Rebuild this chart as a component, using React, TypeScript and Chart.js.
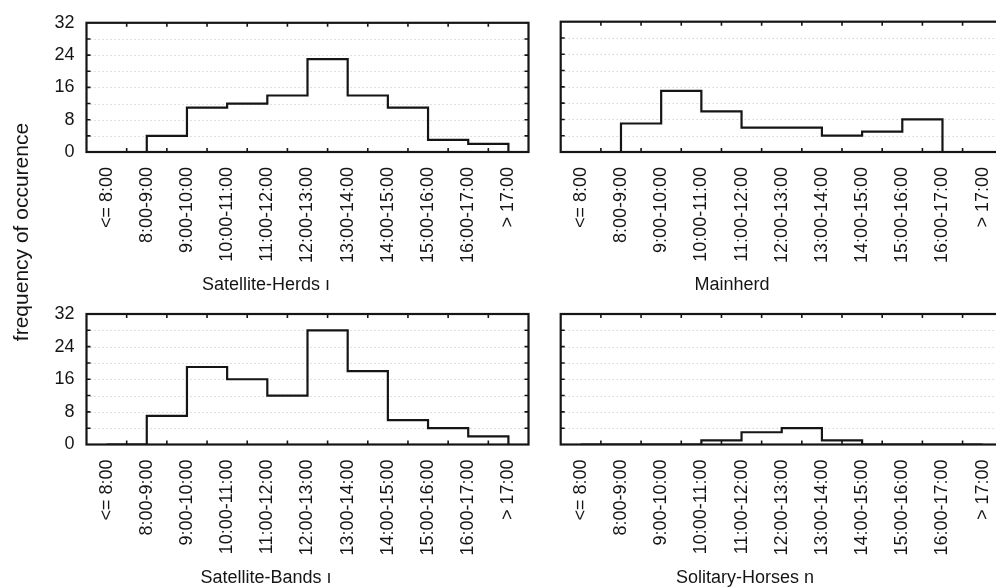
import React, { useEffect, useRef } from "react";
import { Chart, registerables } from "chart.js";

Chart.register(...registerables);

// ---- data ----
const timeSlots = [
  "<= 8:00",
  "8:00-9:00",
  "9:00-10:00",
  "10:00-11:00",
  "11:00-12:00",
  "12:00-13:00",
  "13:00-14:00",
  "14:00-15:00",
  "15:00-16:00",
  "16:00-17:00",
  "> 17:00",
];
const satelliteHerds = [0, 4, 11, 12, 14, 23, 14, 11, 3, 2, 0];
const mainherd = [0, 7, 15, 10, 6, 6, 4, 5, 8, 0, 0];
const satelliteBands = [0, 7, 19, 16, 12, 28, 18, 6, 4, 2, 0];
const solitaryHorses = [0, 0, 0, 1, 3, 4, 1, 0, 0, 0, 0];

const yMax = 32;
const yLabelStep = 8;
const yMinorStep = 4;
const yAxisTitle = "frequency of occurence";

// ---- layout ----
const W = 1020;
const H = 588;
const FONT = "'Liberation Sans', Arial, Helvetica, sans-serif";
const INK = "#151515";

type Panel = {
  name: string;
  values: number[];
  left: number;
  right: number;
  top: number;
  bottom: number;
  showY: boolean;
  titleX: number;
  titleY: number;
  drawYTitle: boolean;
};

const panels: Panel[] = [
  { name: "Satellite-Herds ı", values: satelliteHerds, left: 86.5, right: 528.5, top: 21.7, bottom: 152, showY: true, titleX: 266, titleY: 285, drawYTitle: false },
  { name: "Mainherd", values: mainherd, left: 560.7, right: 1004, top: 21.7, bottom: 152, showY: false, titleX: 732, titleY: 285, drawYTitle: false },
  { name: "Satellite-Bands ı", values: satelliteBands, left: 86.5, right: 528.5, top: 314, bottom: 444.5, showY: true, titleX: 266, titleY: 578, drawYTitle: true },
  { name: "Solitary-Horses n", values: solitaryHorses, left: 560.7, right: 1004, top: 314, bottom: 444.5, showY: false, titleX: 745, titleY: 578, drawYTitle: false },
];

function framePlugin(p: Panel) {
  return {
    id: "frame",
    beforeDatasetsDraw(chart: any) {
      const { ctx, chartArea } = chart;
      const ys = chart.scales.y;
      ctx.save();
      ctx.strokeStyle = "rgba(0,0,0,0.25)";
      ctx.lineWidth = 1;
      ctx.setLineDash([1, 3]);
      for (let v = yMinorStep; v < yMax; v += yMinorStep) {
        const y = Math.round(ys.getPixelForValue(v)) + 0.5;
        ctx.beginPath();
        ctx.moveTo(chartArea.left + 4, y);
        ctx.lineTo(chartArea.right - 4, y);
        ctx.stroke();
      }
      ctx.restore();
    },
    afterDatasetsDraw(chart: any) {
      const { ctx, chartArea } = chart;
      const xs = chart.scales.x;
      const ys = chart.scales.y;
      ctx.save();
      ctx.strokeStyle = INK;
      ctx.setLineDash([]);
      // inward tick marks
      ctx.lineWidth = 1.6;
      const tl = 4;
      for (let i = 0; i < timeSlots.length - 1; i++) {
        const x = xs.getPixelForValue(i + 0.5);
        ctx.beginPath();
        ctx.moveTo(x, chartArea.bottom);
        ctx.lineTo(x, chartArea.bottom - tl);
        ctx.moveTo(x, chartArea.top);
        ctx.lineTo(x, chartArea.top + tl);
        ctx.stroke();
      }
      for (let v = yMinorStep; v < yMax; v += yMinorStep) {
        const y = ys.getPixelForValue(v);
        ctx.beginPath();
        ctx.moveTo(chartArea.left, y);
        ctx.lineTo(chartArea.left + tl, y);
        ctx.moveTo(chartArea.right, y);
        ctx.lineTo(chartArea.right - tl, y);
        ctx.stroke();
      }
      // frame
      ctx.lineWidth = 2.2;
      ctx.strokeRect(chartArea.left, chartArea.top, chartArea.right - chartArea.left, chartArea.bottom - chartArea.top);
      ctx.restore();
    },
    afterDraw(chart: any) {
      const { ctx } = chart;
      ctx.save();
      ctx.fillStyle = INK;
      ctx.font = `18px ${FONT}`;
      ctx.textAlign = "center";
      ctx.textBaseline = "middle";
      ctx.fillText(p.name, p.titleX, p.titleY);
      if (p.drawYTitle) {
        ctx.translate(22, 232);
        ctx.rotate(-Math.PI / 2);
        ctx.font = `21px ${FONT}`;
        ctx.fillText(yAxisTitle, 0, 0);
      }
      ctx.restore();
    },
  };
}

function PanelChart({ p }: { p: Panel }) {
  const ref = useRef<HTMLCanvasElement | null>(null);
  useEffect(() => {
    if (!ref.current) return;
    const yWidth = 40;
    const xHeight = 120;
    const yScale: any = {
      display: p.showY,
      min: 0,
      max: yMax,
      grid: { display: false, drawTicks: false },
      border: { display: false },
      ticks: {
        stepSize: yLabelStep,
        padding: 12,
        color: INK,
        font: { family: FONT, size: 18 },
      },
    };
    if (p.showY) yScale.afterFit = (s: any) => { s.width = yWidth; };
    const chart = new Chart(ref.current, {
      type: "line",
      data: {
        labels: timeSlots,
        datasets: [
          {
            data: p.values,
            borderColor: INK,
            borderWidth: 2.2,
            pointRadius: 0,
            stepped: "before",
            fill: false,
          } as any,
        ],
      },
      options: {
        animation: false,
        responsive: false,
        maintainAspectRatio: false,
        events: [],
        layout: {
          padding: {
            left: p.showY ? p.left - yWidth : p.left,
            top: p.top,
            right: W - p.right,
            bottom: H - p.bottom - xHeight,
          },
        },
        plugins: {
          legend: { display: false },
          tooltip: { enabled: false },
          title: { display: false },
        },
        scales: {
          x: {
            type: "category",
            offset: true,
            grid: { display: false, drawTicks: false },
            border: { display: false },
            ticks: {
              autoSkip: false,
              minRotation: 90,
              maxRotation: 90,
              padding: 15,
              color: INK,
              font: { family: FONT, size: 18 },
            },
            afterFit: (s: any) => { s.height = xHeight; },
          } as any,
          y: yScale,
        },
      },
      plugins: [framePlugin(p)],
    });
    return () => chart.destroy();
  }, [p]);
  return (
    <canvas
      ref={ref}
      width={W}
      height={H}
      style={{ position: "absolute", left: 0, top: 0, width: W, height: H }}
    />
  );
}

export default function App() {
  return (
    <div
      style={{
        position: "absolute",
        left: 0,
        top: 0,
        width: 996,
        height: 588,
        overflow: "hidden",
        background: "#fff",
      }}
    >
      {panels.map((p) => (
        <PanelChart key={p.name} p={p} />
      ))}
    </div>
  );
}
